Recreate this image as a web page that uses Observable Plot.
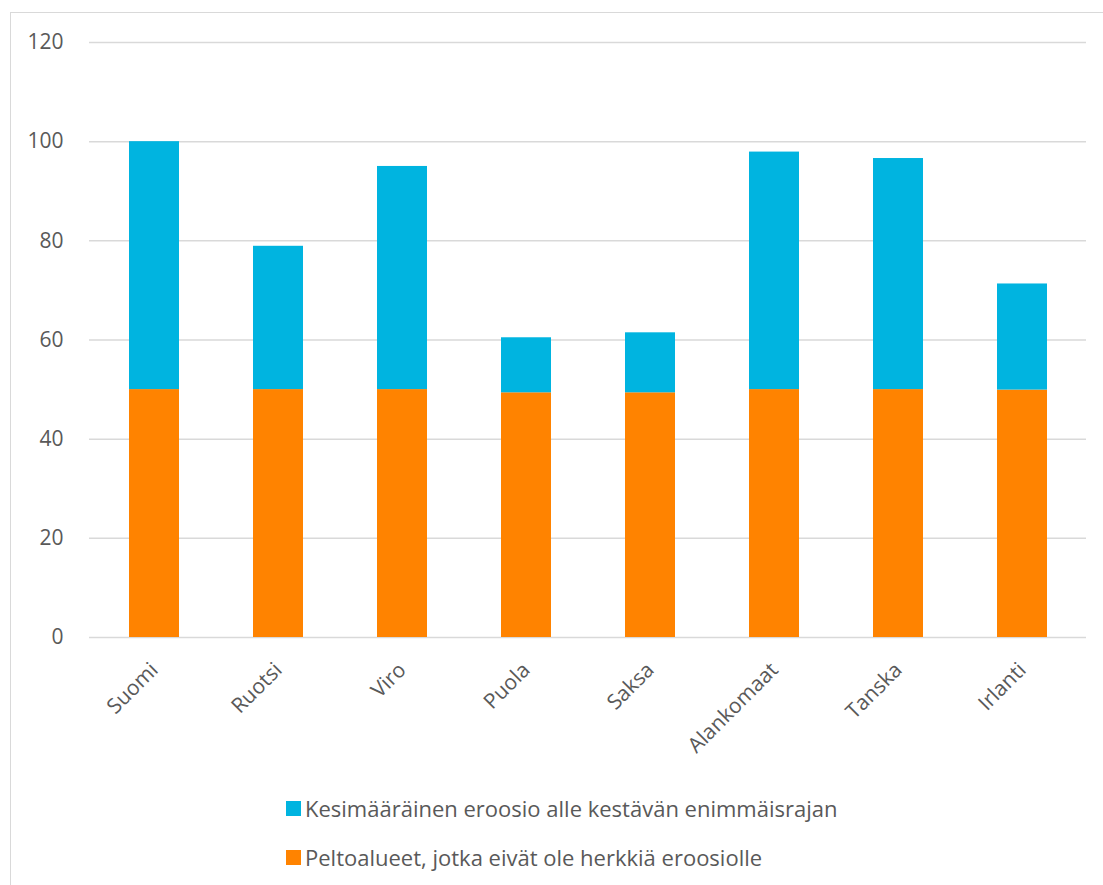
<!DOCTYPE html>
<html>
<head>
<meta charset="utf-8">
<script src="https://cdn.jsdelivr.net/npm/d3@7"></script>
<script src="https://cdn.jsdelivr.net/npm/@observablehq/plot@0.6"></script>
<style>
  html, body { margin: 0; padding: 0; background: #fff; }
  body { width: 1103px; height: 885px; position: relative; overflow: hidden; font-family: "Open Sans", sans-serif; }
  #frame { position: absolute; left: 10px; top: 12px; width: 1110px; height: 900px; border: 1px solid #d9d9d9; box-sizing: border-box; }
  #chart { position: absolute; left: 0; top: 0; }
  #legend { position: absolute; left: 286px; top: 793px; color: #595959; font-size: 22px; }
  .item { display: flex; align-items: center; height: 30px; margin-bottom: 19px; }
  .sw { width: 15px; height: 15px; margin-right: 4px; }
</style>
</head>
<body>
<div id="frame"></div>
<div id="chart"></div>
<div id="legend"></div>
<script>
const countries = ["Suomi", "Ruotsi", "Viro", "Puola", "Saksa", "Alankomaat", "Tanska", "Irlanti"];
const notSensitive = [50, 50, 50, 49.35, 49.35, 50, 50, 49.9];
const belowLimit = [50, 28.9, 45, 11.1, 12.1, 47.9, 46.6, 21.4];
const seriesNames = ["Peltoalueet, jotka eivät ole herkkiä eroosiolle", "Kesimääräinen eroosio alle kestävän enimmäisrajan"];
const seriesColors = ["#ff8300", "#00b4e0"];
const yTicks = [0, 20, 40, 60, 80, 100, 120];

const data = [];
countries.forEach((c, i) => data.push({country: c, series: seriesNames[0], value: notSensitive[i]}));
countries.forEach((c, i) => data.push({country: c, series: seriesNames[1], value: belowLimit[i]}));

const chart = Plot.plot({
  width: 1103,
  height: 780,
  marginTop: 42,
  marginBottom: 143,
  marginLeft: 89,
  marginRight: 17,
  style: {fontFamily: "'Open Sans', sans-serif", color: "#595959", background: "transparent"},
  x: {domain: countries, paddingInner: 0.6, paddingOuter: 0.3, label: null},
  y: {domain: [0, 120], label: null},
  color: {domain: seriesNames, range: seriesColors},
  marks: [
    Plot.ruleY(yTicks, {stroke: "#d9d9d9", strokeWidth: 1.5}),
    Plot.barY(data, {x: "country", y: "value", fill: "series"}),
    Plot.axisY({ticks: yTicks, tickSize: 0, tickPadding: 26, label: null, fill: "#595959", fontSize: 21}),
    Plot.axisX({tickSize: 0, tickRotate: -45, tickPadding: 29, label: null, fill: "#595959", fontSize: 21})
  ]
});
document.getElementById("chart").appendChild(chart);

const legend = document.getElementById("legend");
[1, 0].forEach(i => {
  const d = document.createElement("div");
  d.className = "item";
  d.innerHTML = `<span class="sw" style="background:${seriesColors[i]}"></span><span>${seriesNames[i]}</span>`;
  legend.appendChild(d);
});
</script>
</body>
</html>
